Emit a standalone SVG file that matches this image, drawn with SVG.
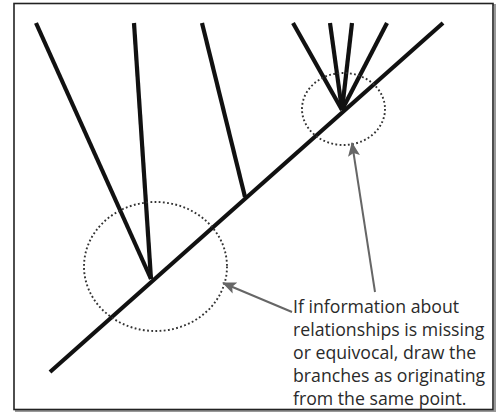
<svg xmlns="http://www.w3.org/2000/svg" width="498" height="416" viewBox="0 0 498 416">
<defs>
<style>
.br{stroke:#111;stroke-width:4.2;stroke-linecap:butt;fill:none}
.dot{fill:none;stroke:#333;stroke-width:1.9;stroke-dasharray:1.8 2.4}
.arr{stroke:#666;stroke-width:2;fill:none;marker-end:url(#ah)}
.t{font-family:"Open Sans","Liberation Sans",sans-serif;font-size:17.7px;fill:#2a2a2a}
</style>
<marker id="ah" viewBox="0 0 14 12" refX="13" refY="6" markerWidth="14" markerHeight="12" markerUnits="userSpaceOnUse" orient="auto">
<path d="M0,0 L14,6 L0,12 L3,6 Z" fill="#666"/>
</marker>
</defs>
<rect width="498" height="416" fill="#fff"/>
<rect x="16" y="5" width="479" height="406" fill="none" stroke="#999" stroke-width="2"/>
<rect x="14" y="3.5" width="479" height="406" fill="#fff" stroke="#222" stroke-width="1.6"/>
<g id="tree">
<line class="br" x1="50" y1="372" x2="443" y2="23"/>
<line class="br" x1="36" y1="23" x2="151" y2="279"/>
<line class="br" x1="134" y1="23" x2="151" y2="279"/>
<line class="br" x1="202" y1="23" x2="245" y2="197"/>
<line class="br" x1="293" y1="23" x2="342" y2="110"/>
<line class="br" x1="330" y1="23" x2="342" y2="110"/>
<line class="br" x1="352" y1="23" x2="342" y2="110"/>
<line class="br" x1="387" y1="23" x2="342" y2="110"/>
</g>
<g id="circles">
<ellipse class="dot" cx="155.5" cy="266.5" rx="71.5" ry="64.5"/>
<ellipse class="dot" cx="343.5" cy="109" rx="41.5" ry="36"/>
</g>
<g id="connectors">
<line class="arr" x1="292" y1="312" x2="223" y2="283"/>
<line class="arr" x1="375" y1="292" x2="352" y2="143"/>
</g>
<g id="label" class="t">
<text x="293" y="313">If information about</text>
<text x="293" y="336">relationships is missing</text>
<text x="293" y="359">or equivocal, draw the</text>
<text x="293" y="382">branches as originating</text>
<text x="293" y="405">from the same point.</text>
</g>
</svg>
